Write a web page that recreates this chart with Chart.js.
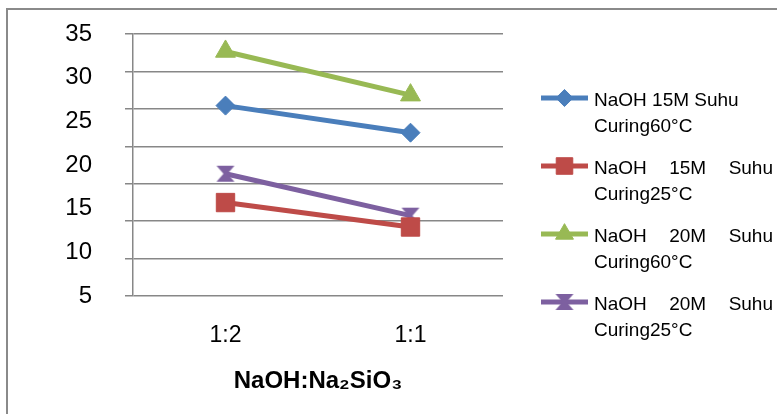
<!DOCTYPE html>
<html lang="id">
<head>
<meta charset="UTF-8">
<title>NaOH:Na2SiO3</title>
<script src="https://cdn.jsdelivr.net/npm/chart.js"></script>
<style>
  html, body { margin: 0; padding: 0; background: #fff; }
</style>
</head>
<body>
<canvas id="grafik" width="777" height="414"></canvas>
<script>
  // Kategori (rasio NaOH : Na2SiO3)
  const rasio = ['1:2', '1:1'];

  // Nilai tiap seri
  const naoh15m60 = [26.8, 23.7];
  const naoh15m25 = [15.7, 12.9];
  const naoh20m60 = [33.0, 28.0];
  const naoh20m25 = [19.0, 14.2];

  // Teks legenda, dua baris per seri
  const labelSeri = [
    ['NaOH 15M Suhu', 'Curing60°C'],
    ['NaOH 15M Suhu', 'Curing25°C'],
    ['NaOH 20M Suhu', 'Curing60°C'],
    ['NaOH 20M Suhu', 'Curing25°C']
  ];

  // Sumbu Y: label 5..35, garis bantu 0..35
  const yMin = 5, yMax = 35, yStep = 5;
  const gridMin = 0;
  const judulX = 'NaOH:Na₂SiO₃';

  const FONT = "'Liberation Sans', Arial, sans-serif";
  Chart.defaults.font.family = FONT;
  Chart.defaults.color = '#000';

  // penanda jam pasir untuk seri ungu
  function jamPasir(warna) {
    const c = document.createElement('canvas');
    c.width = 20; c.height = 18;
    const g = c.getContext('2d');
    g.fillStyle = warna;
    g.beginPath();
    g.moveTo(1, 1); g.lineTo(19, 1); g.lineTo(12, 9);
    g.lineTo(19, 17); g.lineTo(1, 17); g.lineTo(8, 9);
    g.closePath();
    g.fill();
    return c;
  }

  // bingkai abu-abu di kiri dan atas
  const bingkai = {
    id: 'bingkai',
    beforeDraw(chart) {
      const ctx = chart.ctx;
      ctx.save();
      ctx.strokeStyle = '#8a8a8a';
      ctx.lineWidth = 2;
      ctx.beginPath();
      ctx.moveTo(7, 420); ctx.lineTo(7, 9); ctx.lineTo(780, 9);
      ctx.stroke();
      ctx.restore();
    }
  };

  // legenda di kanan, teks rata kiri-kanan seperti di Word
  const legenda = {
    id: 'legenda',
    afterDraw(chart) {
      const ctx = chart.ctx;
      const x0 = 541, x1 = 588, xTeks = 594, kanan = 773;
      const atas = 101, jarakItem = 68, jarakBaris = 26;
      ctx.save();
      ctx.font = '19px ' + FONT;
      ctx.textBaseline = 'middle';
      chart.data.datasets.forEach((ds, i) => {
        const y = atas + i * jarakItem;
        ctx.strokeStyle = ds.borderColor;
        ctx.lineWidth = 5;
        ctx.beginPath(); ctx.moveTo(x0, y - 3); ctx.lineTo(x1, y - 3); ctx.stroke();
        ctx.fillStyle = ds.pointBackgroundColor;
        ctx.strokeStyle = ds.pointBorderColor;
        ctx.lineWidth = 1;
        Chart.helpers.drawPoint(ctx, { pointStyle: ds.pointStyle, radius: ds.pointRadius * 0.9, borderWidth: 1, rotation: 0 }, (x0 + x1) / 2, y - 3);
        ctx.fillStyle = '#000';
        labelSeri[i].forEach((baris, b) => {
          const yb = y + b * jarakBaris;
          const kata = baris.split(' ');
          if (b === 0 && i > 0 && kata.length > 1) {
            const total = kata.reduce((s, k) => s + ctx.measureText(k).width, 0);
            const sela = (kanan - xTeks - total) / (kata.length - 1);
            let x = xTeks;
            kata.forEach(k => { ctx.fillText(k, x, yb); x += ctx.measureText(k).width + sela; });
          } else {
            ctx.fillText(baris, xTeks, yb);
          }
        });
      });
      ctx.restore();
    }
  };

  const warna = ['#4A7EBB', '#BE4B48', '#98B954', '#7D60A0'];
  const nilai = [naoh15m60, naoh15m25, naoh20m60, naoh20m25];
  const gaya = ['rectRot', 'rect', 'triangle', jamPasir(warna[3])];
  const jari = [9.5, 13, 11.5, 10];

  const ctx = document.getElementById('grafik').getContext('2d');
  new Chart(ctx, {
    type: 'line',
    data: {
      labels: rasio,
      datasets: nilai.map((d, i) => ({
        label: labelSeri[i].join(' '),
        data: d,
        yAxisID: 'y',
        borderColor: warna[i],
        backgroundColor: warna[i],
        borderWidth: 5,
        tension: 0,
        pointStyle: gaya[i],
        pointRadius: jari[i],
        pointBackgroundColor: warna[i],
        pointBorderColor: warna[i],
        pointBorderWidth: 1
      }))
    },
    options: {
      responsive: false,
      animation: false,
      devicePixelRatio: 1,
      layout: { padding: { left: 0, right: 274, top: 34, bottom: 0 } },
      plugins: {
        legend: { display: false },
        tooltip: { enabled: false }
      },
      scales: {
        x: {
          offset: true,
          grid: { display: false, drawTicks: false },
          border: { display: false },
          ticks: { font: { size: 23 }, color: '#000', padding: 26 },
          title: { display: true, text: judulX, color: '#000', font: { size: 24, weight: 'bold' }, padding: { top: 0, bottom: 18 } },
          afterFit(s) { s.height = 118; }
        },
        y: {
          position: 'left',
          weight: 10,
          min: yMin, max: yMax,
          ticks: { stepSize: yStep, font: { size: 24 }, color: '#000', padding: 33 },
          grid: { display: false, drawTicks: false },
          border: { display: false },
          afterFit(s) { s.width = 125; s.paddingTop = 0; s.paddingBottom = 0; }
        },
        g: {
          position: 'left',
          weight: 0,
          min: gridMin, max: yMax,
          ticks: { display: false, stepSize: yStep },
          grid: { color: '#878787', lineWidth: 1.5, tickLength: 8 },
          border: { color: '#878787', width: 1.5 },
          afterFit(s) { s.width = 8; s.paddingTop = 0; s.paddingBottom = 0; }
        }
      }
    },
    plugins: [bingkai, legenda]
  });
</script>
</body>
</html>
